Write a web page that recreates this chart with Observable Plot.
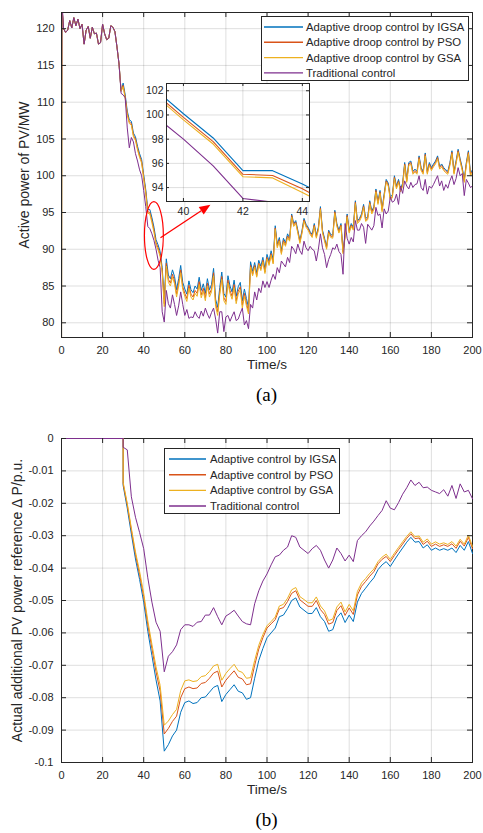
<!DOCTYPE html>
<html><head><meta charset="utf-8">
<script src="https://cdn.jsdelivr.net/npm/d3@7"></script>
<script src="https://cdn.jsdelivr.net/npm/@observablehq/plot@0.6"></script>
<style>
body{margin:0;background:#fff;}
#wrap{position:relative;width:483px;height:833px;overflow:hidden;font-family:"Liberation Sans",Arial,sans-serif;color:#262626;background:#fff;}
.abs{position:absolute;}
.legend{position:absolute;background:#fff;border:1px solid #262626;box-sizing:border-box;}
.legend .lab{position:absolute;white-space:nowrap;font-size:11.3px;line-height:14px;transform:translateY(-50%);}
.legend svg{position:absolute;left:0;top:0;}
.cap{position:absolute;font-family:"Liberation Serif","Times New Roman",serif;font-size:19px;transform:translate(-50%,-50%);color:#000;}
</style></head><body><div id="wrap"></div><script>
// ---------- DATA ----------
// Panel (a): time samples (s) and active power (MW)
const tA = [0, 0.2, ...d3.range(1, 201)];
const igsaA = [70, 123,
120.0,119.5,119.8,121.1,120.1,121.5,120.4,121.3,120.0,120.6,
117.9,119.8,120.3,118.7,120.2,119.3,119.4,117.9,118.1,120.6,
119.3,118.5,118.7,120.4,120.2,119.6,117.5,115.2,111.5,112.6,
111.0,108.8,107.6,107.4,105.8,105.3,104.0,103.0,102.2,100.1,
98.1,95.4,95.4,94.3,93.0,91.3,90.6,89.7,87.5,83.2,
88.7,86.5,86.0,87.2,86.3,84.5,86.0,87.8,85.5,84.6,
83.9,85.7,84.5,84.1,85.0,84.6,86.2,84.4,85.3,84.0,
86.0,84.5,85.2,87.4,83.2,82.1,84.8,86.9,84.0,83.5,
86.4,85.0,84.2,85.8,83.6,84.9,85.5,83.0,84.6,83.3,
82.1,88.3,87.0,88.2,86.8,88.5,87.7,88.9,87.3,89.3,
88.4,89.8,88.6,93.2,90.7,91.6,89.8,91.5,90.9,92.1,
91.5,94.8,93.5,93.9,92.6,91.2,92.5,94.2,93.4,93.0,
92.4,92.0,93.5,91.9,93.0,95.8,92.6,91.5,90.4,92.6,
92.0,91.9,95.3,93.5,92.6,93.5,89.8,92.0,94.8,92.6,
93.5,93.0,96.6,93.9,94.2,94.8,96.1,94.2,94.4,96.6,
95.2,95.8,98.2,96.5,98.0,95.5,97.5,99.5,99.0,97.1,
97.4,100.0,98.6,99.5,98.2,99.0,101.8,99.5,101.8,102.0,
100.6,100.9,100.6,102.7,101.1,100.6,103.1,100.6,101.8,101.1,
101.6,102.0,102.7,101.3,101.6,101.1,100.8,100.6,101.8,103.4,
100.6,102.0,103.6,102.3,101.1,99.5,101.8,103.4,100.4,100.8];
const psoA = [70, 123,
120.0,119.5,119.8,121.1,120.1,121.5,120.4,121.3,120.0,120.6,
117.9,119.8,120.3,118.7,120.2,119.3,119.4,117.9,118.1,120.6,
119.3,118.5,118.7,120.4,120.2,119.6,117.5,115.2,111.5,112.3,
110.7,108.5,107.3,107.1,105.5,105.0,103.7,102.7,101.9,99.8,
97.8,95.1,95.0,93.9,92.6,90.9,90.2,89.3,87.1,82.6,
88.1,85.9,85.4,86.6,85.7,83.9,85.4,87.2,84.9,84.0,
83.3,85.1,83.9,83.5,84.4,84.0,85.6,83.8,84.7,83.4,
85.4,83.9,84.6,86.8,82.6,81.5,84.2,86.3,83.4,82.9,
85.8,84.4,83.6,85.2,83.0,84.3,84.9,82.4,84.0,82.7,
81.5,87.8,86.6,87.8,86.4,88.1,87.3,88.5,86.9,88.9,
88.0,89.4,88.2,92.9,90.4,91.3,89.5,91.2,90.6,91.8,
91.3,94.6,93.3,93.7,92.4,91.0,92.3,94.0,93.2,92.8,
92.2,91.8,93.3,91.7,92.8,95.6,92.4,91.3,90.2,92.4,
91.8,91.7,95.1,93.3,92.4,93.3,89.6,91.8,94.6,92.4,
93.3,92.8,96.4,93.7,94.0,94.6,95.9,94.0,94.2,96.4,
95.0,95.6,98.0,96.3,97.8,95.3,97.3,99.3,98.8,96.9,
97.2,99.8,98.4,99.3,98.0,98.8,101.6,99.3,101.6,101.8,
100.4,100.7,100.4,102.5,100.9,100.4,102.9,100.4,101.6,100.9,
101.4,101.8,102.5,101.1,101.4,100.9,100.6,100.4,101.6,103.2,
100.4,101.8,103.4,102.1,100.9,99.3,101.6,103.2,100.2,100.6];
const gsaA = [70, 123,
120.0,119.5,119.8,121.1,120.1,121.5,120.4,121.3,120.0,120.6,
117.9,119.8,120.3,118.7,120.2,119.3,119.4,117.9,118.1,120.6,
119.3,118.5,118.7,120.4,120.2,119.6,117.5,115.2,111.5,112.1,
110.5,108.3,107.1,106.9,105.3,104.8,103.5,102.5,101.7,99.6,
97.6,94.9,94.8,93.6,92.3,90.6,89.9,89.0,86.8,82.2,
87.7,85.5,85.0,86.2,85.3,83.5,85.0,86.8,84.5,83.6,
82.9,84.7,83.5,83.1,84.0,83.6,85.2,83.4,84.3,83.0,
85.0,83.5,84.2,86.4,82.2,81.0,83.8,85.9,83.0,82.5,
85.4,84.0,83.2,84.8,82.6,83.9,84.5,82.0,83.6,82.3,
81.2,87.6,86.4,87.6,86.2,87.9,87.1,88.3,86.7,88.7,
87.8,89.2,88.0,92.7,90.2,91.1,89.3,91.0,90.4,91.6,
91.1,94.4,93.1,93.5,92.2,90.8,92.1,93.8,93.0,92.6,
92.0,91.6,93.1,91.5,92.6,95.4,92.2,91.1,90.0,92.2,
91.6,91.5,94.9,93.1,92.2,93.1,89.4,91.6,94.4,92.2,
93.1,92.6,96.2,93.5,93.8,94.4,95.7,93.8,94.0,96.2,
94.8,95.4,97.8,96.1,97.6,95.1,97.1,99.1,98.6,96.7,
97.0,99.6,98.2,99.1,97.8,98.6,101.4,99.1,101.4,101.6,
100.2,100.5,100.2,102.3,100.7,100.2,102.7,100.2,101.4,100.7,
101.2,101.6,102.3,100.9,101.2,100.7,100.4,100.2,101.4,103.0,
100.2,101.6,103.2,101.9,100.7,99.1,101.4,103.0,100.0,100.4];
const tradA = [108, 124,
120.0,119.5,119.8,121.1,120.1,121.5,120.4,121.3,120.0,120.6,
117.9,119.8,120.3,118.7,120.2,119.3,119.4,117.9,118.1,120.6,
119.3,118.5,118.7,120.4,120.2,119.6,117.5,115.2,111.2,111.0,
110.6,106.5,103.8,105.2,104.6,103.0,102.0,100.8,100.0,98.0,
95.8,93.1,92.8,92.1,91.2,90.0,88.5,87.5,81.5,80.1,
84.4,82.6,82.0,83.8,82.5,81.0,82.3,84.2,82.5,81.0,
81.8,80.6,80.8,80.7,81.5,80.9,80.6,81.6,80.9,82.0,
81.2,80.6,81.4,82.0,80.5,78.6,81.5,81.5,78.8,80.8,
81.0,80.2,80.9,81.5,80.3,80.5,81.3,82.0,79.7,80.3,
79.2,82.5,82.0,84.2,83.1,84.7,84.1,85.7,84.8,85.6,
84.8,85.8,86.6,85.9,87.5,86.8,88.4,88.0,87.6,88.9,
88.2,90.4,90.0,89.4,90.7,89.8,89.3,91.1,90.2,89.8,
90.4,90.0,89.8,88.4,90.0,92.1,90.2,89.3,87.5,88.6,
89.3,90.2,90.0,90.7,89.7,89.3,86.6,93.5,91.5,90.7,
91.6,91.0,93.9,92.6,92.6,93.5,93.0,90.8,93.4,93.0,
92.6,93.2,95.7,94.6,94.8,92.9,95.5,94.8,95.2,97.1,
96.4,96.6,97.5,96.1,98.6,97.6,99.3,98.6,98.2,99.1,
98.4,98.8,98.9,100.0,98.4,98.0,99.5,97.5,98.6,98.3,
98.8,99.4,100.0,98.6,99.3,98.0,98.8,98.3,99.3,100.0,
98.8,99.6,101.1,100.0,100.3,97.3,99.5,99.0,98.4,98.6];

// Panel (b): time samples (s) and additional power reference ΔP (p.u.)
const tB = [0, 30, 30, ...d3.range(32, 201, 2)];
const igsaB = [0, 0, -0.0145,
-0.0215,-0.0295,-0.0372,-0.0435,-0.0505,-0.0595,-0.0670,-0.0745,-0.0810,-0.0965,
-0.0945,-0.0918,-0.0900,-0.0845,-0.0815,-0.0810,-0.0818,-0.0815,-0.0800,-0.0798,
-0.0783,-0.0768,-0.0762,-0.0812,-0.0790,-0.0775,-0.0760,-0.0780,-0.0785,-0.0805,
-0.0800,-0.0740,-0.0685,-0.0648,-0.0615,-0.0600,-0.0585,-0.0550,-0.0545,-0.0525,
-0.0500,-0.0492,-0.0520,-0.0530,-0.0540,-0.0540,-0.0522,-0.0550,-0.0565,-0.0595,
-0.0590,-0.0553,-0.0538,-0.0568,-0.0545,-0.0565,-0.0505,-0.0478,-0.0462,-0.0445,
-0.0430,-0.0405,-0.0390,-0.0380,-0.0395,-0.0375,-0.0356,-0.0338,-0.0320,-0.0305,
-0.0320,-0.0318,-0.0338,-0.0328,-0.0345,-0.0338,-0.0345,-0.0340,-0.0345,-0.0338,
-0.0352,-0.0330,-0.0345,-0.0318,-0.0355];
const psoB = [0, 0, -0.0140,
-0.0205,-0.0283,-0.0358,-0.0420,-0.0488,-0.0575,-0.0648,-0.0720,-0.0780,-0.0912,
-0.0895,-0.0873,-0.0857,-0.0800,-0.0772,-0.0767,-0.0772,-0.0770,-0.0756,-0.0753,
-0.0740,-0.0724,-0.0718,-0.0767,-0.0746,-0.0731,-0.0717,-0.0737,-0.0742,-0.0760,
-0.0757,-0.0700,-0.0650,-0.0615,-0.0585,-0.0572,-0.0559,-0.0526,-0.0522,-0.0503,
-0.0478,-0.0470,-0.0498,-0.0508,-0.0518,-0.0518,-0.0500,-0.0528,-0.0543,-0.0573,
-0.0568,-0.0531,-0.0516,-0.0546,-0.0523,-0.0543,-0.0483,-0.0456,-0.0441,-0.0425,
-0.0411,-0.0387,-0.0373,-0.0364,-0.0380,-0.0361,-0.0343,-0.0326,-0.0308,-0.0294,
-0.0309,-0.0307,-0.0327,-0.0317,-0.0333,-0.0326,-0.0333,-0.0328,-0.0333,-0.0325,
-0.0339,-0.0317,-0.0332,-0.0305,-0.0340];
const gsaB = [0, 0, -0.0135,
-0.0200,-0.0277,-0.0350,-0.0410,-0.0478,-0.0563,-0.0635,-0.0705,-0.0762,-0.0885,
-0.0872,-0.0852,-0.0836,-0.0778,-0.0748,-0.0745,-0.0750,-0.0748,-0.0735,-0.0732,
-0.0719,-0.0702,-0.0697,-0.0746,-0.0725,-0.0710,-0.0697,-0.0717,-0.0722,-0.0740,
-0.0738,-0.0685,-0.0638,-0.0605,-0.0578,-0.0565,-0.0551,-0.0517,-0.0512,-0.0493,
-0.0467,-0.0460,-0.0488,-0.0497,-0.0507,-0.0507,-0.0489,-0.0517,-0.0532,-0.0562,
-0.0557,-0.0520,-0.0505,-0.0535,-0.0512,-0.0532,-0.0472,-0.0446,-0.0432,-0.0416,
-0.0403,-0.0380,-0.0366,-0.0357,-0.0373,-0.0354,-0.0336,-0.0319,-0.0302,-0.0288,
-0.0303,-0.0301,-0.0320,-0.0310,-0.0326,-0.0319,-0.0326,-0.0322,-0.0327,-0.0318,
-0.0332,-0.0311,-0.0326,-0.0298,-0.0333];
const tradB = [0, 0, -0.0027,
-0.0035,-0.0180,-0.0243,-0.0290,-0.0340,-0.0430,-0.0505,-0.0567,-0.0595,-0.0720,
-0.0672,-0.0658,-0.0637,-0.0590,-0.0575,-0.0575,-0.0580,-0.0567,-0.0565,-0.0545,
-0.0545,-0.0522,-0.0550,-0.0575,-0.0548,-0.0540,-0.0530,-0.0548,-0.0565,-0.0572,
-0.0575,-0.0510,-0.0470,-0.0440,-0.0418,-0.0390,-0.0365,-0.0360,-0.0345,-0.0335,
-0.0300,-0.0305,-0.0335,-0.0345,-0.0355,-0.0340,-0.0330,-0.0345,-0.0375,-0.0400,
-0.0375,-0.0338,-0.0355,-0.0378,-0.0360,-0.0380,-0.0315,-0.0300,-0.0288,-0.0270,
-0.0255,-0.0238,-0.0222,-0.0192,-0.0215,-0.0220,-0.0198,-0.0172,-0.0152,-0.0128,
-0.0145,-0.0135,-0.0152,-0.0150,-0.0160,-0.0165,-0.0170,-0.0158,-0.0178,-0.0145,
-0.0185,-0.0140,-0.0165,-0.0160,-0.0186];

// Tick values / labels
const xTicks = [0,20,40,60,80,100,120,140,160,180,200];
const yTicksA = [80,85,90,95,100,105,110,115,120];
const yTicksB = [0,-0.01,-0.02,-0.03,-0.04,-0.05,-0.06,-0.07,-0.08,-0.09,-0.1];
const insetXTicks = [40,42,44];
const insetYTicks = [94,96,98,100,102];

// Legend labels
const namesA = ["Adaptive droop control by IGSA","Adaptive droop control by PSO","Adaptive droop control by GSA","Traditional control"];
const namesB = ["Adaptive control by IGSA","Adaptive control by PSO","Adaptive control by GSA","Traditional control"];

// Annotation (data units): ellipse around the zoomed segment, arrow toward the inset
const ellipseA = {t: 45.2, v: 91.8, dt: 4.6, dv: 4.6};
const arrowA = {t1: 48.4, v1: 91.5, t2: 72.7, v2: 96.0};

// ---------- RENDER ----------
const INK = "#262626";
const FONT = "'Liberation Sans', Arial, Helvetica, sans-serif";
const COLORS = ["#0072BD","#D95319","#EDB120","#7E2F8E"];
const GRID = {stroke: INK, strokeOpacity: 0.15, strokeWidth: 1};
const rowsA = tA.map((t, i) => ({t, s0: igsaA[i], s1: psoA[i], s2: gsaA[i], s3: tradA[i]}));
const rowsB = tB.map((t, i) => ({t, s0: igsaB[i], s1: psoB[i], s2: gsaB[i], s3: tradB[i]}));
const keys = ["s0","s1","s2","s3"];

function inward(xt, yt, pw, ph, len) {
  return [
    Plot.tickX(xt, {x: d => d, insetTop: ph - len, stroke: INK}),
    Plot.tickX(xt, {x: d => d, insetBottom: ph - len, stroke: INK}),
    Plot.tickY(yt, {y: d => d, insetRight: pw - len, stroke: INK}),
    Plot.tickY(yt, {y: d => d, insetLeft: pw - len, stroke: INK})
  ];
}
const baseStyle = {fontFamily: FONT, fontSize: "11px", color: INK, background: "transparent", overflow: "visible"};

function annotation(index, scales) {
  const x = scales.x, y = scales.y;
  const g = d3.create("svg:g");
  const cx = x(ellipseA.t), cy = y(ellipseA.v);
  const rx = Math.abs(x(ellipseA.t + ellipseA.dt) - cx), ry = Math.abs(y(ellipseA.v + ellipseA.dv) - cy);
  g.append("ellipse").attr("cx", cx).attr("cy", cy).attr("rx", rx).attr("ry", ry)
    .attr("fill", "none").attr("stroke", "#FF0000").attr("stroke-width", 1.2);
  const x1 = x(arrowA.t1), y1 = y(arrowA.v1), x2 = x(arrowA.t2), y2 = y(arrowA.v2);
  const a = Math.atan2(y2 - y1, x2 - x1), hl = 11, hw = 4.5;
  const bx = x2 - hl * Math.cos(a), by = y2 - hl * Math.sin(a);
  g.append("line").attr("x1", x1).attr("y1", y1).attr("x2", bx).attr("y2", by)
    .attr("stroke", "#FF0000").attr("stroke-width", 1.3);
  g.append("path").attr("d", `M${x2},${y2}L${bx + hw*Math.sin(a)},${by - hw*Math.cos(a)}L${bx - hw*Math.sin(a)},${by + hw*Math.cos(a)}Z`)
    .attr("fill", "#FF0000");
  return g.node();
}

const plotA = Plot.plot({
  width: 483, height: 385, marginTop: 12, marginBottom: 48, marginLeft: 61, marginRight: 11,
  style: baseStyle,
  x: {domain: [0, 200]},
  y: {domain: [78, 122.2]},
  marks: [
    Plot.gridX(xTicks, GRID), Plot.gridY(yTicksA, GRID),
    ...keys.map((k, i) => Plot.line(rowsA, {x: "t", y: k, stroke: COLORS[i], strokeWidth: 1, clip: true})),
    annotation,
    Plot.frame({stroke: INK}),
    ...inward(xTicks, yTicksA, 411, 325, 5),
    Plot.axisX(xTicks, {tickSize: 0, tickPadding: 9, fontSize: 11, label: null}),
    Plot.axisY(yTicksA, {tickSize: 0, tickPadding: 7, fontSize: 11, label: null}),
    Plot.text(["Time/s"], {text: d => d, frameAnchor: "bottom", textAnchor: "middle", dy: 31, fontSize: 13.5, fill: INK}),
    Plot.text(["Active power of PV/MW"], {text: d => d, frameAnchor: "left", textAnchor: "middle", dx: -37, rotate: -90, fontSize: 14, fill: INK})
  ]
});

const inset = Plot.plot({
  width: 178, height: 143, marginTop: 5, marginBottom: 20, marginLeft: 30, marginRight: 5,
  style: baseStyle,
  x: {domain: [39.43, 44.24]},
  y: {domain: [92.85, 102.6]},
  marks: [
    Plot.frame({fill: "white"}),
    Plot.gridX(insetXTicks, GRID), Plot.gridY(insetYTicks, GRID),
    ...keys.map((k, i) => Plot.line(rowsA, {x: "t", y: k, stroke: COLORS[i], strokeWidth: 1.1, clip: true})),
    Plot.frame({stroke: INK}),
    ...inward(insetXTicks, insetYTicks, 143, 118, 3),
    Plot.axisX(insetXTicks, {tickSize: 0, tickPadding: 6, fontSize: 10.5, label: null}),
    Plot.axisY(insetYTicks, {tickSize: 0, tickPadding: 3, fontSize: 10.5, label: null})
  ]
});

const plotB = Plot.plot({
  width: 483, height: 400, marginTop: 38, marginBottom: 38, marginLeft: 61, marginRight: 11,
  style: baseStyle,
  x: {domain: [0, 200]},
  y: {domain: [-0.1, 0]},
  marks: [
    Plot.gridX(xTicks, GRID), Plot.gridY(yTicksB, GRID),
    Plot.frame({stroke: INK}),
    ...keys.map((k, i) => Plot.line(rowsB, {x: "t", y: k, stroke: COLORS[i], strokeWidth: 1})),
    ...inward(xTicks, yTicksB, 411, 324, 5),
    Plot.axisX(xTicks, {tickSize: 0, tickPadding: 9, fontSize: 11, label: null}),
    Plot.axisY(yTicksB, {tickSize: 0, tickPadding: 8, fontSize: 11, label: null,
      tickFormat: d => d === 0 ? "0" : String(+d.toFixed(2))}),
    Plot.text(["Time/s"], {text: d => d, frameAnchor: "bottom", textAnchor: "middle", dy: 31, fontSize: 13.5, fill: INK}),
    Plot.text(["Actual additional PV power reference \u0394 P/p.u."], {text: d => d, frameAnchor: "left", textAnchor: "middle", dx: -44, rotate: -90, fontSize: 14, fill: INK})
  ]
});

const wrap = document.getElementById("wrap");
function place(node, left, top) {
  const d = document.createElement("div");
  d.className = "abs"; d.style.left = left + "px"; d.style.top = top + "px";
  d.appendChild(node); wrap.appendChild(d); return d;
}
place(plotA, 0, 0);
place(plotB, 0, 400);

function legend(left, top, w, h, names, rowY, lx1, lx2, tx) {
  const box = document.createElement("div");
  box.className = "legend";
  Object.assign(box.style, {left: left + "px", top: top + "px", width: w + "px", height: h + "px"});
  const svg = d3.create("svg").attr("width", w).attr("height", h);
  names.forEach((n, i) => {
    svg.append("line").attr("x1", lx1).attr("x2", lx2).attr("y1", rowY[i]).attr("y2", rowY[i])
      .attr("stroke", COLORS[i]).attr("stroke-width", 1.4);
    const s = document.createElement("div");
    s.className = "lab"; s.textContent = n;
    s.style.left = tx + "px"; s.style.top = rowY[i] + "px";
    box.appendChild(s);
  });
  box.insertBefore(svg.node(), box.firstChild);
  wrap.appendChild(box);
}
legend(261, 16, 208, 65, namesA, [10, 25.3, 40.6, 55.9], 2, 41, 44);
place(inset, 136, 78);
legend(164, 448, 176, 66, namesB, [10, 25.7, 41.4, 57], 4, 41, 45);

function caption(text, x, y) {
  const c = document.createElement("div");
  c.className = "cap"; c.textContent = text;
  c.style.left = x + "px"; c.style.top = y + "px";
  wrap.appendChild(c);
}
caption("(a)", 266.5, 395);
caption("(b)", 266.5, 820);
</script></body></html>
